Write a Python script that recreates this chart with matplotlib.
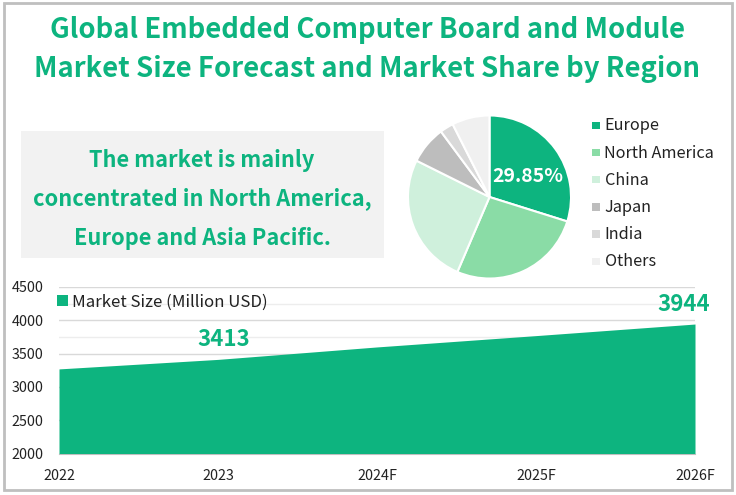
import matplotlib
matplotlib.use("Agg")
import matplotlib.pyplot as plt
from matplotlib.patches import Rectangle

plt.rcParams['font.family'] = ['Noto Sans CJK SC', 'DejaVu Sans']

title_lines = ["Global Embedded Computer Board and Module", "Market Size Forecast and Market Share by Region"]
callout_lines = ["The market is mainly", "concentrated in North America,", "Europe and Asia Pacific."]
regions = ["Europe", "North America", "China", "Japan", "India", "Others"]
shares = [29.85, 26.6, 25.9, 7.5, 2.7, 7.45]
pie_colors = ["#0DB47F", "#8ADCA6", "#CFF0DC", "#BDBDBD", "#D9D9D9", "#F0F0F0"]
years = ["2022", "2023", "2024F", "2025F", "2026F"]
market_size = [3270, 3413, 3600, 3770, 3944]
y_ticks = [2000, 2500, 3000, 3500, 4000, 4500]
minor_ticks = [3750, 4250]
labelled = {1: "3413", 4: "3944"}
green = "#0DB47F"

W, H = 736, 495
fig = plt.figure(figsize=(W/100, H/100), dpi=100, facecolor="white")
bg = fig.add_axes([0, 0, 1, 1]); bg.set_xlim(0, W); bg.set_ylim(H, 0); bg.axis("off")
bg.add_patch(Rectangle((3.5, 2.5), 728, 487.5, fill=False, ec="#BFBFBF", lw=2))
bg.add_patch(Rectangle((21, 131), 363, 127, fc="#F2F2F2", ec="none"))
for y, t in zip([30, 69], title_lines):
    bg.text(367, y, t, color=green, fontsize=19.8, fontweight="bold", ha="center", va="center")
for y, t in zip([160, 199, 238], callout_lines):
    bg.text(202, y, t, color=green, fontsize=15.7, fontweight="bold", ha="center", va="center")

# pie
pa = fig.add_axes([(489.5-82.5)/W, 1-(197+82.5)/H, 165/W, 165/H])
wedges, _ = pa.pie(shares, colors=pie_colors, startangle=90, counterclock=False, radius=1,
                   wedgeprops=dict(edgecolor="white", linewidth=1.5))
pa.set_xlim(-1.012, 1.012); pa.set_ylim(-1.012, 1.012)
pa.text(0.47, 0.25, "29.85%", color="white", fontsize=14, fontweight="bold", ha="center", va="center")
for i, (r, c) in enumerate(zip(regions, pie_colors)):
    y = 125 + i*27.2
    bg.add_patch(Rectangle((592, y-3.5), 7.5, 7.5, fc=c, ec="none"))
    bg.text(604.5, y+1, r, color="#222222", fontsize=11.7, ha="left", va="center")

# area
ax = fig.add_axes([59/W, 1-453.5/H, (695-59)/W, (453.5-287)/H])
ax.patch.set_alpha(0)
x = range(len(years))
ax.fill_between(x, market_size, 2000, color=green, lw=0, zorder=3, label="Market Size (Million USD)")
ax.set_xlim(0, 4); ax.set_ylim(2000, 4500)
ax.set_yticks(y_ticks); ax.set_yticks(minor_ticks, minor=True)
ax.grid(axis="y", which="major", color="#D9D9D9", lw=1, zorder=0)
ax.grid(axis="y", which="minor", color="#EDEDED", lw=1, zorder=0)
ax.set_xticks(list(x)); ax.set_xticklabels(years)
ax.tick_params(which="both", length=0)
ax.tick_params(axis="y", labelsize=10.3, pad=11, labelcolor="#222222")
ax.tick_params(axis="x", labelsize=10.3, pad=11, labelcolor="#222222")
for s in ["top", "left", "right"]:
    ax.spines[s].set_visible(False)
ax.spines["bottom"].set_color("#BFBFBF")
for i, t in labelled.items():
    ax.annotate(t, (i, market_size[i]), xytext=(-8 if i == 4 else 4, 6), textcoords="offset points",
                color=green, fontsize=16, fontweight="bold", ha="center", va="bottom")
ax.legend(loc="upper left", bbox_to_anchor=(-0.021, 1.03), frameon=False, fontsize=12.1,
          handlelength=0.65, handleheight=0.65, handletextpad=0.2, labelcolor="#222222", borderpad=0.2)

fig.savefig("out.png", dpi=100)
